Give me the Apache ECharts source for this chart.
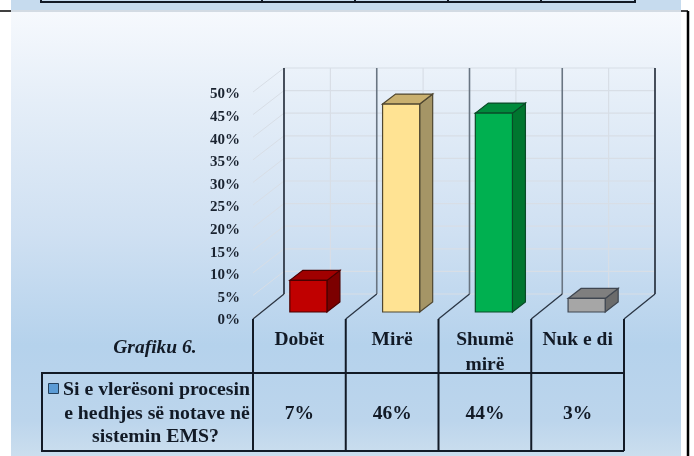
<!DOCTYPE html>
<html><head><meta charset="utf-8">
<style>html,body{margin:0;padding:0;background:#fff}#c{width:694px;height:456px}</style>
<script src="https://cdn.jsdelivr.net/npm/echarts@6/dist/echarts.min.js"></script>
</head><body><div id="c"></div>
<script>
const categories = ['Dobët', 'Mirë', 'Shumë\nmirë', 'Nuk e di'];
const values = [7, 46, 44, 3];
const tableValues = ['7%', '46%', '44%', '3%'];
const ticks = [0, 5, 10, 15, 20, 25, 30, 35, 40, 45, 50];
const boundaries = [0, 1, 2, 3, 4];
const faceColors = ['#c00000', '#ffe393', '#00b050', '#a6a6a6'];
const topColors = ['#a00000', '#c9b06f', '#008a3c', '#7f7f7f'];
const sideColors = ['#7c0000', '#a59566', '#00762f', '#6b6b6b'];
const edgeColors = ['#4a0000', '#4f4630', '#0a4a28', '#3f4650'];
const questionLines = ['Si e vlerësoni procesin', 'e hedhjes së notave në', 'sistemin EMS?'];
const chartTitle = 'Grafiku 6.';

const SERIF = '"Liberation Serif","Times New Roman",serif';
const DEPTH = [31, -24];
const INK = '#121a26';
const chart = echarts.init(document.getElementById('c'), null, {renderer: 'canvas'});

function line(x1, y1, x2, y2, stroke, w, z) {
  return {type: 'line', z2: z || 0, shape: {x1, y1, x2, y2}, style: {stroke, lineWidth: w, fill: null}};
}

function wallItem(p, api) {
  const v = api.value(0);
  const a = api.coord([0, v]);
  const hw = api.size([1, 0])[0] / 2;
  const xL = a[0] - hw;
  const xR = xL + hw * 8;
  const y = a[1];
  const c = '#d8dee6';
  return {type: 'group', silent: true, children: [
    line(xL, y, xL + DEPTH[0], y + DEPTH[1], c, 1),
    line(xL + DEPTH[0], y + DEPTH[1], xR + DEPTH[0], y + DEPTH[1], c, 1.2)
  ]};
}

function frameItem(p, api) {
  const i = api.value(0);
  const bw = api.size([1, 0])[0];
  const base = api.coord([0, 0]);
  const top = api.coord([0, 50]);
  const x = base[0] - bw / 2 + i * bw;
  const y0 = base[1];
  const yT = top[1];
  const outer = i === 0 || i === 4;
  const kids = [
    line(x + DEPTH[0], y0 + DEPTH[1], x + DEPTH[0], yT + DEPTH[1], outer ? '#1d2634' : '#697582', 1.6),
    line(x, y0 + 1, x + DEPTH[0], y0 + DEPTH[1], '#2a3544', 1.3),
    line(x, y0 + 1, x, 451, INK, 2)
  ];
  if (i < 4) {
    kids.push(line(x + DEPTH[0] + bw / 2, y0 + DEPTH[1], x + DEPTH[0] + bw / 2, yT + DEPTH[1], '#d8dee6', 1.2));
  }
  return {type: 'group', silent: true, children: kids};
}

function barItem(p, api) {
  const i = api.value(0);
  const o = api.coord([i, 0]);
  const t = api.coord([i, api.value(1)]);
  const bw = api.size([1, 0])[0] * 0.4;
  const l = o[0] - bw / 2 + 9, r = l + bw;
  const b = o[1] - 6, h = t[1] - 6;
  const dx = 13, dy = -10;
  const edge = edgeColors[i];
  const st = f => ({fill: f, stroke: edge, lineWidth: 1.2});
  return {type: 'group', children: [
    {type: 'polygon', shape: {points: [[r, h], [r + dx, h + dy], [r + dx, b + dy], [r, b]]}, style: st(sideColors[i])},
    {type: 'polygon', shape: {points: [[l, h], [l + dx, h + dy], [r + dx, h + dy], [r, h]]}, style: st(topColors[i])},
    {type: 'rect', shape: {x: l, y: h, width: bw, height: b - h}, style: st(faceColors[i])}
  ]};
}

function cellItem(p, api) {
  const i = api.value(0);
  const c = api.coord([i, 0]);
  return {type: 'text', style: {x: c[0], y: 414, text: tableValues[i], align: 'center', verticalAlign: 'middle',
    font: 'bold 19.5px ' + SERIF, fill: INK}};
}

const panelGradient = new echarts.graphic.LinearGradient(0, 0, 0, 1, [
  {offset: 0, color: '#f6f9fd'},
  {offset: 0.2, color: '#e5eef8'},
  {offset: 0.5, color: '#cfe0f2'},
  {offset: 0.75, color: '#b5d2ec'},
  {offset: 0.92, color: '#bcd5ec'},
  {offset: 1, color: '#cbdeee'}
]);

chart.setOption({
  animation: false,
  backgroundColor: '#ffffff',
  grid: {left: 253, top: 92, width: 371, height: 226},
  xAxis: {
    type: 'category', data: categories,
    axisLine: {show: false}, axisTick: {show: false}, splitLine: {show: false},
    axisLabel: {interval: 0, margin: 9, color: INK, fontFamily: SERIF, fontWeight: 'bold', fontSize: 19.5, lineHeight: 25, verticalAlign: 'top'}
  },
  yAxis: {
    type: 'value', min: 0, max: 50, interval: 5,
    axisLine: {show: false}, axisTick: {show: false}, splitLine: {show: false},
    axisLabel: {margin: 13, formatter: '{value}%', color: '#1a2330', fontFamily: SERIF, fontWeight: 'bold', fontSize: 15, lineHeight: 5, verticalAlign: 'top'}
  },
  graphic: [
    {type: 'rect', z: -10, silent: true, shape: {x: 11, y: 0, width: 670, height: 12}, style: {fill: '#c6dbee'}},
    {type: 'rect', z: -10, silent: true, shape: {x: 11, y: 10, width: 670, height: 2}, style: {fill: '#d3dbe3'}},
    {type: 'rect', z: -10, silent: true, shape: {x: 11, y: 12, width: 670, height: 444}, style: {fill: panelGradient}},
    {type: 'line', z: 1, silent: true, shape: {x1: 0, y1: 11, x2: 11, y2: 11}, style: {stroke: '#000', lineWidth: 1.5}},
    {type: 'line', z: 1, silent: true, shape: {x1: 681, y1: 11, x2: 688, y2: 11}, style: {stroke: '#000', lineWidth: 1.5}},
    {type: 'line', z: 1, silent: true, shape: {x1: 688, y1: 11, x2: 688, y2: 456}, style: {stroke: '#000', lineWidth: 2.5}},
    {type: 'line', z: 1, silent: true, shape: {x1: 40, y1: 2, x2: 636, y2: 2}, style: {stroke: INK, lineWidth: 2}},
    {type: 'line', z: 1, silent: true, shape: {x1: 41, y1: 0, x2: 41, y2: 2}, style: {stroke: INK, lineWidth: 2}},
    {type: 'line', z: 1, silent: true, shape: {x1: 262, y1: 0, x2: 262, y2: 2}, style: {stroke: INK, lineWidth: 2}},
    {type: 'line', z: 1, silent: true, shape: {x1: 355, y1: 0, x2: 355, y2: 2}, style: {stroke: INK, lineWidth: 2}},
    {type: 'line', z: 1, silent: true, shape: {x1: 448, y1: 0, x2: 448, y2: 2}, style: {stroke: INK, lineWidth: 2}},
    {type: 'line', z: 1, silent: true, shape: {x1: 541, y1: 0, x2: 541, y2: 2}, style: {stroke: INK, lineWidth: 2}},
    {type: 'line', z: 1, silent: true, shape: {x1: 635, y1: 0, x2: 635, y2: 2}, style: {stroke: INK, lineWidth: 2}},
    {type: 'polyline', z: 1, silent: true, shape: {points: [[624, 373], [42, 373], [42, 451], [624, 451]]}, style: {stroke: INK, lineWidth: 2, fill: null}},
    {type: 'rect', z: 2, silent: true, shape: {x: 48.5, y: 383.5, width: 10, height: 10}, style: {fill: '#5b9bd5', stroke: '#24405c', lineWidth: 1}},
    {type: 'text', z: 2, silent: true, style: {x: 155, y: 348, text: chartTitle, align: 'center', verticalAlign: 'middle', font: 'italic bold 19.5px ' + SERIF, fill: INK}},
    {type: 'text', z: 2, silent: true, style: {x: 156.5, y: 390, text: questionLines[0], align: 'center', verticalAlign: 'middle', font: 'bold 19.8px ' + SERIF, fill: INK}},
    {type: 'text', z: 2, silent: true, style: {x: 157, y: 414, text: questionLines[1], align: 'center', verticalAlign: 'middle', font: 'bold 19.8px ' + SERIF, fill: INK}},
    {type: 'text', z: 2, silent: true, style: {x: 155.5, y: 437, text: questionLines[2], align: 'center', verticalAlign: 'middle', font: 'bold 19.8px ' + SERIF, fill: INK}}
  ],
  series: [
    {type: 'custom', name: 'walls', z: 1, coordinateSystem: 'cartesian2d', silent: true, clip: false, renderItem: wallItem,
     encode: {y: 0}, data: ticks.map(t => [t])},
    {type: 'custom', name: 'frame', z: 2, coordinateSystem: 'cartesian2d', silent: true, clip: false, renderItem: frameItem,
     data: boundaries.map(b => [b])},
    {type: 'custom', name: 'Si e vlerësoni procesin e hedhjes së notave në sistemin EMS?', z: 3, coordinateSystem: 'cartesian2d', clip: false, renderItem: barItem,
     encode: {x: 0, y: 1}, data: values.map((v, i) => [i, v])},
    {type: 'custom', name: 'table', z: 4, coordinateSystem: 'cartesian2d', silent: true, clip: false, renderItem: cellItem,
     data: tableValues.map((v, i) => [i])}
  ]
});
</script></body></html>
